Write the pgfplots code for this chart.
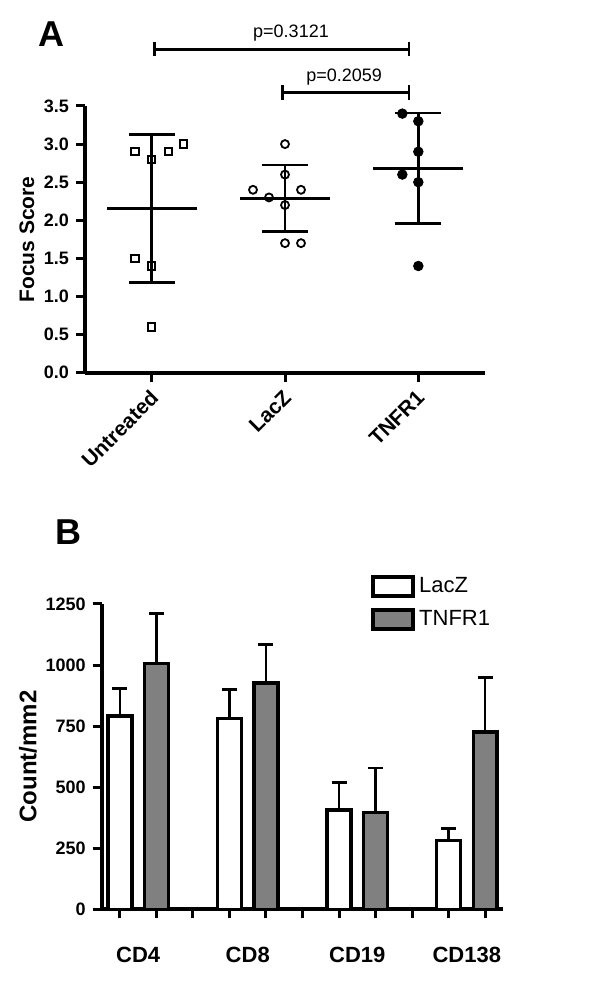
\documentclass[border=0pt]{standalone}
\usepackage{fontspec}
\setmainfont{Liberation Sans}
\usepackage{pgfplots}
\pgfplotsset{compat=1.18}
\definecolor{barfill}{HTML}{808080}

\pgfplotsset{
  panel/.style={
    scale only axis,
    axis lines=left,
    axis line style={-, line width=2pt},
    tick align=outside,
    major tick length=4.5pt,
    tick style={line width=1.5pt, black},
    clip=false,
    /pgf/number format/assume math mode=true,
  },
  % y error bars: direction, cap half-width (the mark is turned for y bars)
  sdbar/.style 2 args={
    /pgfplots/error bars/y explicit,
    /pgfplots/error bars/y dir=#1,
    /pgfplots/error bars/error mark=|,
    /pgfplots/error bars/error mark options={mark size=#2, line width=1.3pt, black},
    /pgfplots/error bars/error bar style={line width=1.3pt, black},
  },
}

\begin{document}
\begin{tikzpicture}
\useasboundingbox (0,0) rectangle (300pt,494pt);

% panel A
\node[font=\fontsize{18}{20}\selectfont\bfseries] at (25.5pt,477pt) {A};
\begin{axis}[panel,
  at={(42.5pt,307.65pt)}, anchor=south west,
  width=200pt, height=133.35pt,
  xmin=0.5, xmax=3.5, ymin=0, ymax=3.5,
  xtick={1,2,3}, xticklabels={Untreated,LacZ,TNFR1},
  ytick={0,0.5,1,1.5,2,2.5,3,3.5},
  yticklabel style={font=\fontsize{9}{10}\selectfont\bfseries,
    /pgf/number format/fixed, /pgf/number format/fixed zerofill,
    /pgf/number format/precision=1},
  xticklabel style={font=\fontsize{10.5}{12}\selectfont\bfseries, rotate=45,
    anchor=north east, yshift=2pt},
  ylabel={Focus Score},
  ylabel style={font=\fontsize{10.5}{12}\selectfont\bfseries,
    at={(axis description cs:-0.145,0.5)}, anchor=center},
]
\addplot[only marks, mark=square, mark size=1.8pt, mark options={line width=1pt, black}]
  coordinates {(0.875,2.9) (1,2.8) (1.125,2.9) (1.24,3.0) (0.875,1.5) (1,1.4) (1,0.6)};
\addplot[only marks, mark=o, mark size=2pt, mark options={line width=0.9pt, black}]
  coordinates {(2,3.0) (2,2.6) (1.76,2.4) (1.88,2.3) (2.12,2.4) (2,2.2) (2,1.7) (2.12,1.7)};
\addplot[only marks, mark=*, mark size=2.4pt, mark options={black}]
  coordinates {(2.88,3.4) (3,3.3) (3,2.9) (2.88,2.6) (3,2.5) (3,1.4)};
% mean +- SD
\addplot[only marks, mark=-, mark size=22.5pt, mark options={line width=1.3pt, black},
  sdbar={both}{11.5pt}]
  coordinates {(1,2.157) +- (0,0.971) (2,2.288) +- (0,0.436) (3,2.683) +- (0,0.725)};
% significance brackets
\draw[line width=1.3pt] (axis cs:1.02,4.244) -- (axis cs:2.93,4.244);
\draw[line width=1.3pt] (axis cs:1.02,4.15) -- (axis cs:1.02,4.34);
\draw[line width=1.3pt] (axis cs:2.93,4.15) -- (axis cs:2.93,4.34);
\node[font=\fontsize{9}{10}\selectfont] at (axis cs:2.045,4.458) {p=0.3121};
\draw[line width=1.3pt] (axis cs:1.98,3.675) -- (axis cs:2.93,3.675);
\draw[line width=1.3pt] (axis cs:1.98,3.58) -- (axis cs:1.98,3.77);
\draw[line width=1.3pt] (axis cs:2.93,3.58) -- (axis cs:2.93,3.77);
\node[font=\fontsize{9}{10}\selectfont] at (axis cs:2.443,3.877) {p=0.2059};
\end{axis}

% panel B
\node[font=\fontsize{18}{20}\selectfont\bfseries] at (34pt,228pt) {B};
\begin{axis}[panel,
  at={(50.85pt,39.35pt)}, anchor=south west,
  width=200.8pt, height=152.65pt,
  xmin=0.5, xmax=11.5, ymin=0, ymax=1250,
  xtick={1,...,11}, xticklabels={},
  extra x ticks={1.5,4.5,7.5,10.5},
  extra x tick labels={CD4,CD8,CD19,CD138},
  extra x tick style={major tick length=0pt,
    tick label style={font=\fontsize{11}{13}\selectfont\bfseries, yshift=-15.5pt}},
  ytick={0,250,500,750,1000,1250},
  yticklabel style={font=\fontsize{9}{10}\selectfont\bfseries,
    /pgf/number format/1000 sep={}},
  ylabel={Count/mm2},
  ylabel style={font=\fontsize{12}{14}\selectfont\bfseries,
    at={(axis description cs:-0.1835,0.5)}, anchor=center},
  legend image code/.code={\draw[#1, line width=2pt] (0pt,-4.75pt) rectangle (20pt,4.75pt);},
  legend style={at={(axis description cs:0.67,1.1)}, anchor=north west,
    draw=none, fill=none, font=\fontsize{11}{13}\selectfont, row sep=3pt,
    inner sep=0pt},
  legend cell align=left,
]
\addplot[ybar, bar shift=0pt, bar width=11.9pt, fill=white, draw=black, line width=1.65pt,
  sdbar={plus}{3.75pt}]
  coordinates {(1,791) +- (0,112) (4,780) +- (0,120) (7,406) +- (0,113) (10,283) +- (0,48)};
\addplot[ybar, bar shift=0pt, bar width=11.9pt, fill=barfill, draw=black, line width=1.65pt,
  sdbar={plus}{3.75pt}]
  coordinates {(2,1005) +- (0,206) (5,927) +- (0,157) (8,396) +- (0,182) (11,726) +- (0,224)};
\legend{LacZ,TNFR1}
\end{axis}
\end{tikzpicture}
\end{document}
